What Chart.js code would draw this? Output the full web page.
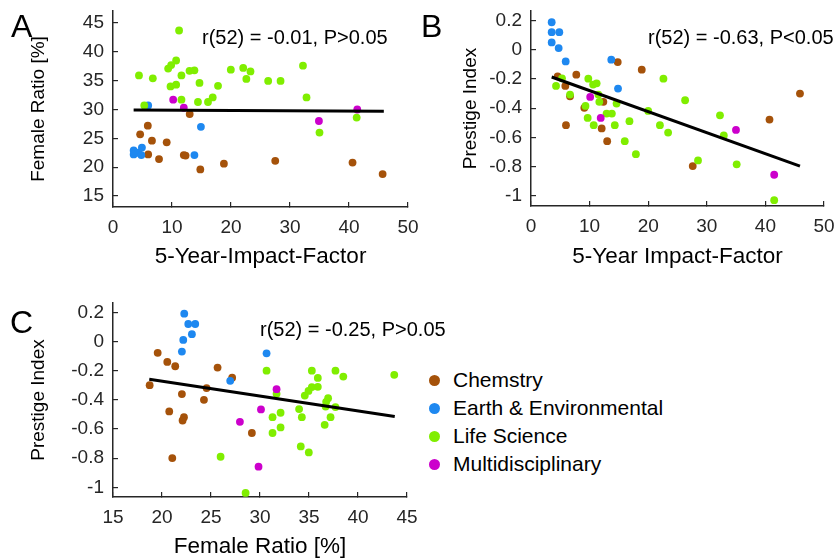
<!DOCTYPE html>
<html>
<head>
<meta charset="utf-8">
<script src="https://cdn.jsdelivr.net/npm/chart.js@4/dist/chart.umd.min.js"></script>
<style>
body { margin: 0; background: #fff; width: 840px; height: 560px; position: relative; overflow: hidden; font-family: "Liberation Sans", Arial, sans-serif; color: #000; }
canvas { position: absolute; }
.txt { position: absolute; white-space: nowrap; font-size: 20px; line-height: 22px; }
.letter { position: absolute; font-size: 32px; line-height: 32px; }
.leg { position: absolute; left: 429px; font-size: 21px; line-height: 22px; white-space: nowrap; }
.leg span { display: inline-block; width: 11px; height: 11px; border-radius: 50%; margin-right: 13px; vertical-align: 1px; }
</style>
</head>
<body>
<canvas id="chartA" width="420" height="280" style="left:0;top:0"></canvas>
<canvas id="chartB" width="420" height="280" style="left:420px;top:0"></canvas>
<canvas id="chartC" width="420" height="280" style="left:0;top:280px"></canvas>

<div class="letter" style="left:11px;top:10px">A</div>
<div class="letter" style="left:421px;top:10px">B</div>
<div class="letter" style="left:10px;top:306px">C</div>

<div class="txt" style="left:202px;top:26px">r(52) = -0.01, P&gt;0.05</div>
<div class="txt" style="left:648px;top:26px">r(52) = -0.63, P&lt;0.05</div>
<div class="txt" style="left:260px;top:318px">r(52) = -0.25, P&gt;0.05</div>

<div id="legend"></div>

<script>
// categories
var categories = ['Chemstry', 'Earth & Environmental', 'Life Science', 'Multidisciplinary'];
var catColors = ['#A5520A', '#1E88F0', '#80EE00', '#CC00CC'];

// panel A: 5-year impact factor vs female ratio
var chemA_x = [13.0, 5.9, 4.6, 6.6, 9.1, 5.96, 7.8, 12.0, 12.3, 14.8, 18.8, 27.5, 40.6, 45.7];
var chemA_y = [29.2, 27.2, 25.7, 24.6, 24.3, 22.2, 21.4, 22.1, 22.0, 19.6, 20.6, 21.1, 20.8, 18.8];
var earthA_x = [3.5, 3.5, 4.3, 4.9, 4.8, 5.96, 14.9, 13.8];
var earthA_y = [22.9, 22.2, 22.5, 23.4, 22.1, 30.7, 27.0, 22.1];
var lifeA_x = [11.2, 4.4, 6.75, 9.35, 9.86, 10.7, 11.6, 12.97, 13.8, 9.75, 10.7, 14.66, 17.8, 19.97, 22.07, 23.3, 22.6, 11.6, 14.4, 16.1, 16.9, 5.3, 32.2, 26.3, 28.4, 32.8, 41.3, 35.0];
var lifeA_y = [43.7, 35.9, 35.4, 37.1, 37.7, 38.5, 35.9, 36.7, 36.8, 34.0, 34.3, 34.6, 34.1, 36.9, 37.2, 36.6, 35.3, 31.7, 31.3, 31.3, 32.1, 30.7, 37.6, 34.95, 34.95, 32.1, 28.6, 26.0];
var multiA_x = [10.2, 12.0, 34.9, 41.4];
var multiA_y = [31.7, 30.3, 28.0, 30.0];
var fitA_x = [3.5, 45.9];
var fitA_y = [29.9, 29.7];

// panel B: 5-year impact factor vs prestige index
var chemB_x = [14.8, 18.9, 7.73, 4.55, 5.86, 6.66, 12.35, 9.1, 12.06, 5.97, 13.0, 40.7, 27.6, 45.9];
var chemB_y = [-0.085, -0.137, -0.171, -0.182, -0.248, -0.319, -0.357, -0.398, -0.539, -0.517, -0.626, -0.478, -0.797, -0.30];
var earthB_x = [3.53, 3.53, 4.83, 3.53, 4.72, 5.92, 13.7, 14.85];
var earthB_y = [0.188, 0.12, 0.12, 0.05, 0.011, -0.08, -0.068, -0.266];
var lifeB_x = [6.66, 5.29, 4.27, 9.78, 10.6, 11.2, 11.5, 11.66, 14.6, 22.6, 20.0, 9.3, 12.9, 13.8, 9.67, 10.7, 14.3, 16.8, 16.0, 17.9, 22.0, 23.4, 26.3, 32.25, 32.9, 28.5, 35.1, 41.5];
var lifeB_y = [-0.307, -0.196, -0.248, -0.198, -0.239, -0.23, -0.307, -0.357, -0.369, -0.198, -0.419, -0.385, -0.437, -0.437, -0.467, -0.517, -0.517, -0.489, -0.626, -0.715, -0.517, -0.567, -0.346, -0.449, -0.587, -0.758, -0.785, -1.03];
var multiB_x = [10.1, 11.9, 34.98, 41.5];
var multiB_y = [-0.323, -0.467, -0.549, -0.856];
var fitB_x = [3.53, 45.9];
var fitB_y = [-0.187, -0.797];

// panel C: female ratio vs prestige index
var chemC_x = [27.16, 19.56, 20.54, 21.35, 25.67, 18.74, 24.55, 22.03, 24.28, 20.74, 22.24, 22.1, 29.17, 21.05];
var chemC_y = [-0.247, -0.077, -0.139, -0.169, -0.178, -0.299, -0.319, -0.36, -0.399, -0.479, -0.518, -0.541, -0.627, -0.799];
var earthC_x = [22.27, 22.68, 23.39, 23.05, 22.17, 22.03, 26.96, 30.67];
var earthC_y = [0.192, 0.121, 0.121, 0.051, 0.012, -0.068, -0.269, -0.08];
var lifeC_x = [25.98, 28.53, 30.67, 35.29, 35.9, 37.7, 38.5, 43.7, 35.9, 35.29, 34.95, 34.57, 31.69, 36.95, 36.75, 36.7, 37.7, 33.99, 31.28, 32.1, 34.27, 31.28, 32.1, 36.6, 37.2, 34.16, 34.98];
var lifeC_y = [-0.79, -1.038, -0.199, -0.199, -0.249, -0.199, -0.24, -0.228, -0.31, -0.312, -0.338, -0.37, -0.358, -0.388, -0.413, -0.445, -0.449, -0.463, -0.518, -0.488, -0.518, -0.627, -0.589, -0.571, -0.518, -0.719, -0.76];
var multiC_x = [27.95, 30.1, 29.85, 31.69];
var multiC_y = [-0.55, -0.465, -0.858, -0.326];
var fitC_x = [18.7, 43.75];
var fitC_y = [-0.258, -0.514];

// tick values
var ticksIF = [0, 10, 20, 30, 40, 50];
var ticksFemale = [15, 20, 25, 30, 35, 40, 45];
var ticksFemaleC = [15, 20, 25, 30, 35, 40, 45];
var ticksPrestige = [-1, -0.8, -0.6, -0.4, -0.2, 0, 0.2];

var axisColor = '#262626';

function pts(xs, ys) {
    var out = [];
    for (var i = 0; i < xs.length; i++) out.push({x: xs[i], y: ys[i]});
    return out;
}

function fmt(v) {
    return String(Number(v.toFixed(1)));
}

function axis(pos, min, max, ticks, title, size, titlePad) {
    return {
        type: 'linear',
        position: pos,
        min: min,
        max: max,
        afterBuildTicks: function(s) { s.ticks = ticks.map(function(v) { return {value: v}; }); },
        afterFit: function(s) {
            if (pos === 'left') s.width = size; else s.height = size;
            // keep the plot box where the figure has it, labels may overhang
            s.paddingLeft = s.paddingRight = s.paddingTop = s.paddingBottom = 0;
        },
        border: {display: true, color: axisColor, width: 1.5},
        grid: {drawOnChartArea: false, drawTicks: true, tickLength: -5, color: axisColor, lineWidth: 1.2},
        ticks: {color: axisColor, padding: 14, font: {family: 'Liberation Sans', size: 19}, callback: fmt, maxRotation: 0, autoSkip: false},
        title: {display: true, text: title, color: '#000', font: {family: 'Liberation Sans', size: pos === 'left' ? 19 : 22.5}, padding: titlePad}
    };
}

function makePanel(id, sets, fx, fy, xAxis, yAxis, pad) {
    var datasets = [{
        data: pts(fx, fy),
        showLine: true,
        borderColor: '#000',
        borderWidth: 3,
        pointRadius: 0,
        fill: false
    }];
    // later categories drawn on top, like the original
    for (var i = sets.length - 1; i >= 0; i--) {
        datasets.push({
            label: categories[i],
            data: pts(sets[i][0], sets[i][1]),
            backgroundColor: catColors[i],
            borderColor: catColors[i],
            borderWidth: 0,
            pointRadius: 3.9
        });
    }
    return new Chart(document.getElementById(id), {
        type: 'scatter',
        data: {datasets: datasets},
        options: {
            responsive: false,
            animation: false,
            layout: {padding: pad},
            plugins: {legend: {display: false}, tooltip: {enabled: false}},
            scales: {x: xAxis, y: yAxis}
        }
    });
}

makePanel('chartA',
    [[chemA_x, chemA_y], [earthA_x, earthA_y], [lifeA_x, lifeA_y], [multiA_x, multiA_y]],
    fitA_x, fitA_y,
    axis('bottom', 0, 50, ticksIF, '5-Year-Impact-Factor', 73, {top: 0, bottom: 10}),
    axis('left', 13.09, 47.08, ticksFemale, 'Female Ratio [%]', 113, {top: 27, bottom: 0}),
    {top: 11, right: 12, left: 0, bottom: 0});

makePanel('chartB',
    [[chemB_x, chemB_y], [earthB_x, earthB_y], [lifeB_x, lifeB_y], [multiB_x, multiB_y]],
    fitB_x, fitB_y,
    axis('bottom', 0, 50, ticksIF, '5-Year Impact-Factor', 74, {top: 0, bottom: 10}),
    axis('left', -1.07, 0.265, ticksPrestige, 'Prestige Index', 111, {top: 39, bottom: 0}),
    {top: 11, right: 16, left: 0, bottom: 0});

makePanel('chartC',
    [[chemC_x, chemC_y], [earthC_x, earthC_y], [lifeC_x, lifeC_y], [multiC_x, multiC_y]],
    fitC_x, fitC_y,
    axis('bottom', 15, 45, ticksFemaleC, 'Female Ratio [%]', 63, {top: 0, bottom: 0}),
    axis('left', -1.066, 0.265, ticksPrestige, 'Prestige Index', 113, {top: 27, bottom: 0}),
    {top: 23, right: 13, left: 0, bottom: 0});

// legend
var legendTop = [369, 397, 425, 453];
var legHtml = '';
categories.forEach(function(c, i) {
    legHtml += '<div class="leg" style="top:' + legendTop[i] + 'px"><span style="background:' + catColors[i] + '"></span>' + c.replace('&', '&amp;') + '</div>';
});
document.getElementById('legend').innerHTML = legHtml;
</script>
</body>
</html>
